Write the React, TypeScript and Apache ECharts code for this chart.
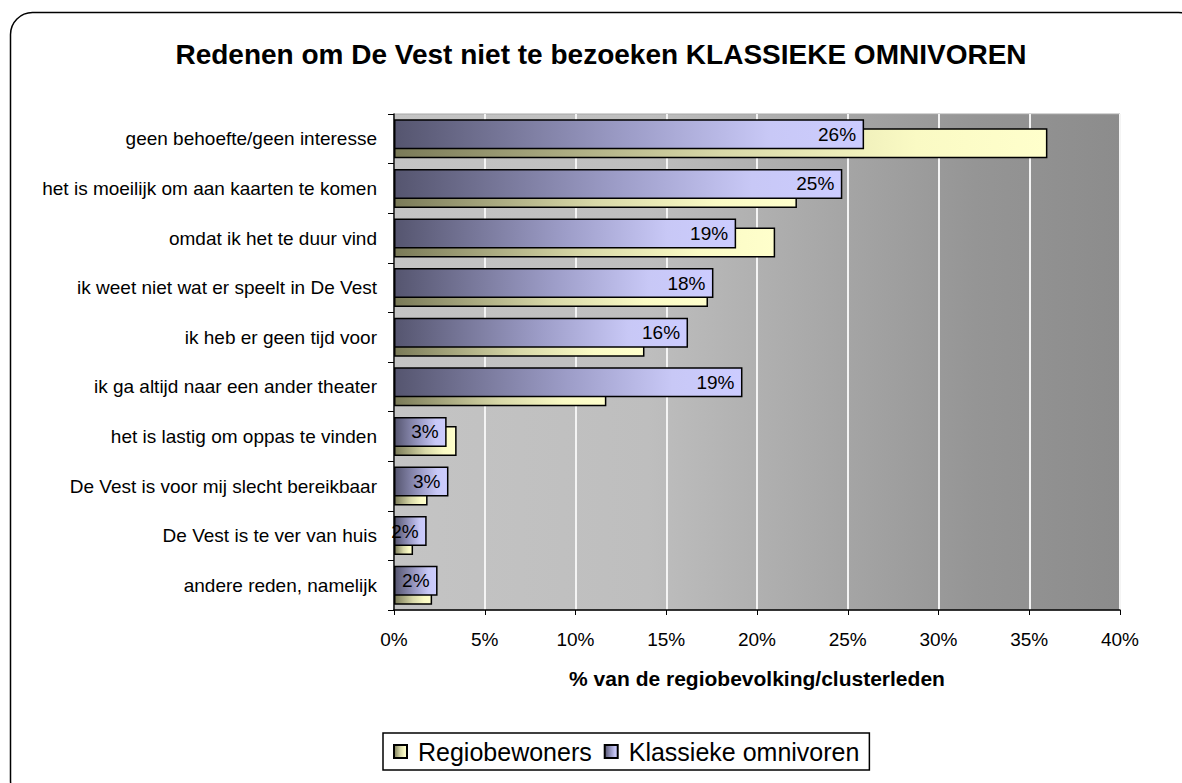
import React, { useEffect, useRef } from "react";
import * as echarts from "echarts";

const categories = [
  "geen behoefte/geen interesse",
  "het is moeilijk om aan kaarten te komen",
  "omdat ik het te duur vind",
  "ik weet niet wat er speelt in De Vest",
  "ik heb er geen tijd voor",
  "ik ga altijd naar een ander theater",
  "het is lastig om oppas te vinden",
  "De Vest is voor mij slecht bereikbaar",
  "De Vest is te ver van huis",
  "andere reden, namelijk",
];
const klassiekeOmnivoren = [25.9, 24.7, 18.85, 17.6, 16.2, 19.2, 2.9, 3.0, 1.8, 2.4];
const regiobewoners = [36.0, 22.2, 21.0, 17.3, 13.8, 11.7, 3.45, 1.85, 1.05, 2.1];
const seriesNames = ["Regiobewoners", "Klassieke omnivoren"];
const titleText = "Redenen om De Vest niet te bezoeken KLASSIEKE OMNIVOREN";
const axisName = "% van de regiobevolking/clusterleden";

const FONT = "Arial, 'Liberation Sans', sans-serif";

export default function App() {
  const ref = useRef<HTMLDivElement>(null);
  useEffect(() => {
    if (!ref.current) return;
    const chart = echarts.init(ref.current, null, { renderer: "svg" });
    const purpleGrad = new echarts.graphic.LinearGradient(0, 0, 1, 0, [
      { offset: 0, color: "#55556f" },
      { offset: 0.5, color: "#9d9dc8" },
      { offset: 0.8, color: "#c8c8f6" },
      { offset: 1, color: "#ccccff" },
    ]);
    const yellowGrad = new echarts.graphic.LinearGradient(0, 0, 1, 0, [
      { offset: 0, color: "#7a7a58" },
      { offset: 0.5, color: "#d8d8a8" },
      { offset: 0.8, color: "#fafac4" },
      { offset: 1, color: "#ffffcc" },
    ]);
    const bgGrad = new echarts.graphic.LinearGradient(0, 0, 1, 0, [
      { offset: 0, color: "#c4c4c4" },
      { offset: 0.35, color: "#bebebe" },
      { offset: 0.6, color: "#a7a7a7" },
      { offset: 0.8, color: "#959595" },
      { offset: 1, color: "#8c8c8c" },
    ]);
    chart.setOption({
      animation: false,
      backgroundColor: "#ffffff",
      textStyle: { fontFamily: FONT },
      graphic: [
        {
          type: "rect",
          shape: { x: 10.5, y: 12.5, width: 1190, height: 790, r: 22 },
          style: { fill: "none", stroke: "#000000", lineWidth: 1.5 },
          z: 0,
        },
        {
          type: "text",
          x: 601,
          y: 54,
          style: {
            text: titleText,
            textAlign: "center",
            textVerticalAlign: "middle",
            fontFamily: FONT,
            fontSize: 28,
            fontWeight: 600,
            fill: "#000000",
          },
        },
      ],
      legend: {
        data: seriesNames,
        left: 383,
        top: 733,
        orient: "horizontal",
        icon: "rect",
        itemWidth: 13,
        itemHeight: 13,
        itemGap: 12,
        padding: [6, 10, 6, 10],
        borderColor: "#000000",
        borderWidth: 1.5,
        backgroundColor: "#ffffff",
        textStyle: {
          fontSize: 25,
          color: "#000000",
          fontFamily: FONT,
          padding: [0, 0, 0, 6],
        },
      },
      grid: {
        left: 394,
        right: 62,
        top: 114,
        bottom: 173,
        show: true,
        backgroundColor: bgGrad,
        borderColor: "#a8a8a8",
        borderWidth: 1,
      },
      xAxis: {
        type: "value",
        min: 0,
        max: 40,
        interval: 5,
        name: axisName,
        nameLocation: "middle",
        nameGap: 58,
        nameTextStyle: { fontSize: 21, fontWeight: "bold", color: "#000000", fontFamily: FONT },
        axisLine: { show: true, lineStyle: { color: "#000000", width: 1.5 } },
        axisTick: { show: true, length: 5, lineStyle: { color: "#000000" } },
        axisLabel: { formatter: "{value}%", fontSize: 19, color: "#000000", margin: 20 },
        splitLine: { show: true, lineStyle: { color: "#f4f4f4", width: 2 } },
      },
      yAxis: {
        type: "category",
        data: categories,
        inverse: true,
        axisLine: { show: true, lineStyle: { color: "#000000", width: 1.5 } },
        axisTick: { show: true, length: 6, lineStyle: { color: "#000000" } },
        axisLabel: { fontSize: 19, color: "#000000", margin: 17 },
        splitLine: { show: false },
      },
      series: [
        {
          name: seriesNames[1],
          type: "bar",
          data: klassiekeOmnivoren,
          barWidth: 30,
          barGap: "-70%",
          z: 3,
          itemStyle: { color: purpleGrad, borderColor: "#000000", borderWidth: 1.5 },
          label: {
            show: true,
            position: "insideRight",
            distance: 8,
            fontSize: 19,
            color: "#000000",
            fontFamily: FONT,
            formatter: (p: any) => Math.round(p.value) + "%",
          },
        },
        {
          name: seriesNames[0],
          type: "bar",
          data: regiobewoners,
          barWidth: 30,
          barGap: "-70%",
          z: 2,
          itemStyle: { color: yellowGrad, borderColor: "#000000", borderWidth: 1.5 },
        },
      ],
    });
    return () => chart.dispose();
  }, []);
  return (
    <div
      ref={ref}
      style={{ position: "fixed", left: 0, top: 0, width: 1182, height: 783 }}
    />
  );
}
